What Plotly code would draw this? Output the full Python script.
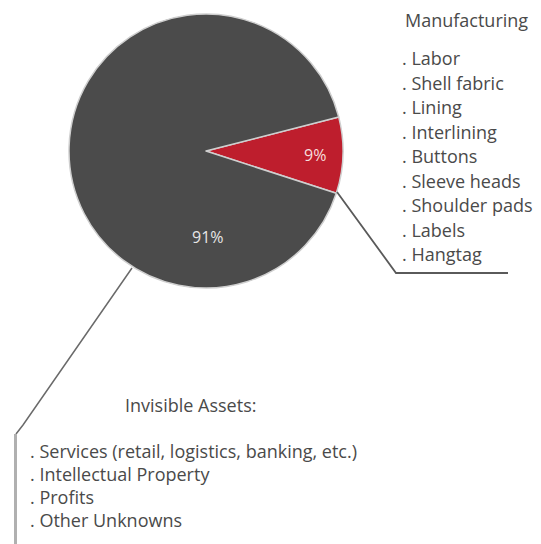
import plotly.graph_objects as go

# Share of a garment's price: visible manufacturing inputs vs. invisible assets
slice_names = ["Manufacturing", "Invisible Assets"]
slice_values = [9, 91]
slice_colors = ["#be1e2d", "#4b4b4b"]

manufacturing_items = ["Labor", "Shell fabric", "Lining", "Interlining", "Buttons",
                       "Sleeve heads", "Shoulder pads", "Labels", "Hangtag"]
invisible_items = ["Services (retail, logistics, banking, etc.)",
                   "Intellectual Property", "Profits", "Other Unknowns"]

W, H = 541, 544
cx, cy, r = 206, 151, 137
FONT = "Open Sans"
TXT = "#4a4a4a"
FS = 18

fig = go.Figure()
fig.add_trace(go.Pie(
    labels=slice_names,
    values=slice_values,
    sort=False,
    direction="clockwise",
    rotation=75.6,
    marker=dict(colors=slice_colors, line=dict(color="#cfcfcf", width=1.5)),
    textinfo="none",
    hoverinfo="label+percent",
    showlegend=False,
    domain=dict(x=[(cx - r) / W, (cx + r) / W], y=[(H - cy - r) / H, (H - cy + r) / H]),
))

# invisible pixel-space axes for callouts and labels
fig.update_layout(
    width=W, height=H,
    margin=dict(l=0, r=0, t=0, b=0),
    paper_bgcolor="white", plot_bgcolor="rgba(0,0,0,0)",
    xaxis=dict(range=[0, W], visible=False, fixedrange=True),
    yaxis=dict(range=[H, 0], visible=False, fixedrange=True),
    font=dict(family=FONT, color=TXT),
)

shapes = []
# leader from the red slice to the manufacturing list
shapes.append(dict(type="path", path="M 337 192 L 396 273 L 508 273",
                   line=dict(color="#5a5a5a", width=1.8), xref="x", yref="y"))
# leader from the grey slice to the invisible assets list
shapes.append(dict(type="path", path="M 132 268 L 23 425 L 16 434",
                   line=dict(color="#6a6a6a", width=1.5), xref="x", yref="y"))
shapes.append(dict(type="line", x0=15.5, y0=434, x1=15.5, y1=H,
                   line=dict(color="#b0b0b0", width=3), xref="x", yref="y"))
fig.update_layout(shapes=shapes)

ann = []
# slice value labels
ann.append(dict(x=315, y=155, text=f"{slice_values[0]}%", showarrow=False,
                font=dict(size=16, color="#f6dede")))
ann.append(dict(x=208, y=237, text=f"{slice_values[1]}%", showarrow=False,
                font=dict(size=16, color="#e6e6e6")))

# manufacturing list
ann.append(dict(x=403, y=20, text=slice_names[0], showarrow=False, xanchor="left",
                font=dict(size=FS, color=TXT)))
for i, item in enumerate(manufacturing_items):
    ann.append(dict(x=400, y=58 + i * 24.5, text=". " + item, showarrow=False,
                    xanchor="left", font=dict(size=FS, color=TXT)))

# invisible assets list
ann.append(dict(x=190, y=405, text=slice_names[1] + ":", showarrow=False,
                font=dict(size=FS, color=TXT)))
for i, item in enumerate(invisible_items):
    ann.append(dict(x=28, y=451 + i * 23, text=". " + item, showarrow=False,
                    xanchor="left", font=dict(size=FS, color=TXT)))

for a in ann:
    a.update(xref="x", yref="y", yanchor="middle")
fig.update_layout(annotations=ann)

fig.write_html("out.html")
